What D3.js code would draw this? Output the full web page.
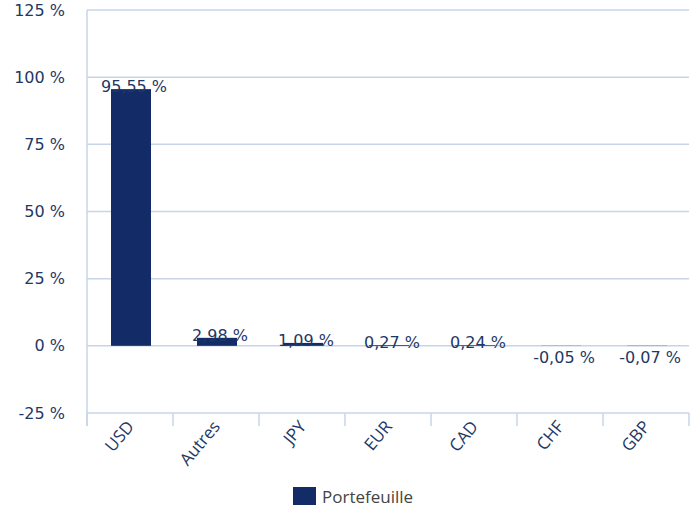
<!DOCTYPE html>
<html><head><meta charset="utf-8">
<script src="https://cdn.jsdelivr.net/npm/d3@7"></script>
<style>body{margin:0;background:#fff}</style>
</head><body>
<svg id="c" width="700" height="514"></svg>
<script>
const categories = ["USD","Autres","JPY","EUR","CAD","CHF","GBP"];
const values = [95.55, 2.98, 1.09, 0.27, 0.24, -0.05, -0.07];
const yTicks = [-25, 0, 25, 50, 75, 100, 125];
const seriesName = "Portefeuille";

(function(){
const svg = d3.select("#c");
const mLeft = 87, mRight = 689, mTop = 10, mBottom = 413;
const gridColor = "#c8d4e8", textColor = "#1f3864", barColor = "#132c68";
const fmt = v => (v < 0 ? "-" : "") + d3.format(".2f")(Math.abs(v)).replace(".", ",") + " %";

const x = d3.scaleBand().domain(categories).range([mLeft, mRight]).paddingInner(0).paddingOuter(0);
const y = d3.scaleLinear().domain([-25, 125]).range([mBottom, mTop]);

// grid
svg.append("g").selectAll("line").data(yTicks).join("line")
  .attr("x1", mLeft).attr("x2", mRight)
  .attr("y1", d => y(d)).attr("y2", d => y(d))
  .attr("stroke", gridColor).attr("stroke-width", 1.5);
svg.append("line").attr("x1", mLeft).attr("x2", mLeft).attr("y1", mTop).attr("y2", mBottom + 13)
  .attr("stroke", gridColor).attr("stroke-width", 1.5);
// category boundary ticks
const bounds = categories.map(c => x(c)).concat([mRight]);
svg.append("g").selectAll("line").data(bounds).join("line")
  .attr("x1", d => d).attr("x2", d => d).attr("y1", mBottom).attr("y2", mBottom + 13)
  .attr("stroke", gridColor).attr("stroke-width", 1.5);

// y labels
svg.append("g").selectAll("text").data(yTicks).join("text")
  .attr("x", 65).attr("y", d => y(d)).attr("dy", "0.35em")
  .attr("text-anchor", "end").attr("fill", textColor)
  .style("font-family", "'DejaVu Sans', Verdana, sans-serif").style("font-size", "16px")
  .text(d => d + " %");

// bars
const bw = 40;
svg.append("g").selectAll("rect").data(values).join("rect")
  .attr("x", (d, i) => x(categories[i]) + x.bandwidth() / 2 - bw / 2 + 1)
  .attr("width", bw)
  .attr("y", d => y(Math.max(0, d)))
  .attr("height", d => Math.abs(y(d) - y(0)))
  .attr("fill", barColor);

// value labels
svg.append("g").selectAll("text").data(values).join("text")
  .attr("x", (d, i) => x(categories[i]) + x.bandwidth() / 2 + 4)
  .attr("y", d => d >= 0 ? y(d) + 3 : y(0) + 17)
  .attr("text-anchor", "middle").attr("fill", textColor)
  .style("font-family", "'DejaVu Sans', Verdana, sans-serif").style("font-size", "16px")
  .text(d => fmt(d));

// x labels
svg.append("g").selectAll("text").data(categories).join("text")
  .attr("transform", d => `translate(${x(d) + x.bandwidth() / 2 + 5},${mBottom + 14}) rotate(-50)`)
  .attr("text-anchor", "end").attr("fill", textColor)
  .style("font-family", "'Open Sans', sans-serif").style("font-size", "17px")
  .text(d => d);

// legend
svg.append("rect").attr("x", 293).attr("y", 487).attr("width", 23).attr("height", 18).attr("fill", barColor);
svg.append("text").attr("x", 322).attr("y", 503).attr("fill", "#444")
  .style("font-family", "'Open Sans', sans-serif").style("font-size", "17px")
  .text(seriesName);
})();
</script>
</body></html>
